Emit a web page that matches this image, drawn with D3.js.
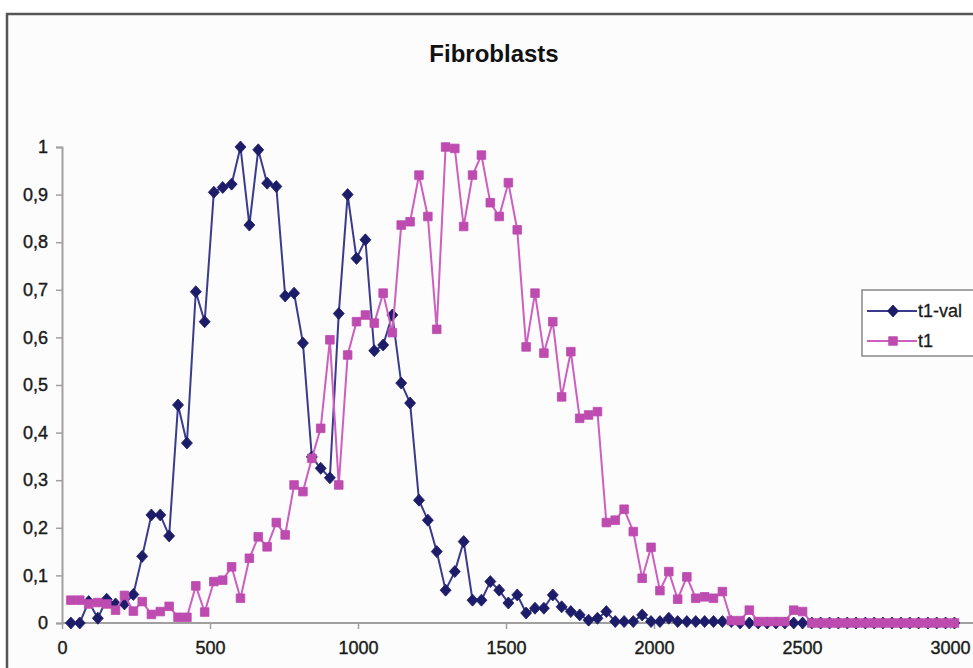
<!DOCTYPE html>
<html>
<head>
<meta charset="utf-8">
<script src="https://cdn.jsdelivr.net/npm/d3@7"></script>
<style>
  html, body { margin: 0; padding: 0; background: #ffffff; }
  svg { display: block; font-family: "Liberation Sans", Arial, sans-serif; }
</style>
</head>
<body>
<svg id="chart" width="973" height="668"></svg>
<script>
// ---------------- data ----------------
const chartTitle = "Fibroblasts";
const seriesNames = ["t1-val", "t1"];

const xValues = [30, 60, 90, 121, 151, 181, 211, 241, 271, 302,
  332, 362, 392, 422, 452, 482, 513, 543, 573, 603,
  633, 663, 693, 724, 754, 784, 814, 844, 874, 905,
  935, 965, 995, 1025, 1055, 1085, 1116, 1146, 1176, 1206,
  1236, 1266, 1296, 1327, 1357, 1387, 1417, 1447, 1477, 1508,
  1538, 1568, 1598, 1628, 1658, 1688, 1719, 1749, 1779, 1809,
  1839, 1869, 1899, 1930, 1960, 1990, 2020, 2050, 2080, 2111,
  2141, 2171, 2201, 2231, 2261, 2291, 2322, 2352, 2382, 2412,
  2442, 2472, 2502, 2533, 2563, 2593, 2623, 2653, 2683, 2714,
  2744, 2774, 2804, 2834, 2864, 2894, 2925, 2955, 2985, 3015];

const t1val = [0, 0, 0.045, 0.01, 0.05, 0.04, 0.04, 0.06, 0.14, 0.227,
  0.227, 0.183, 0.458, 0.378, 0.696, 0.633, 0.905, 0.915, 0.922, 1.0,
  0.836, 0.994, 0.924, 0.917, 0.687, 0.693, 0.588, 0.349, 0.325, 0.305,
  0.65, 0.9, 0.766, 0.805, 0.572, 0.584, 0.647, 0.504, 0.462, 0.258,
  0.216, 0.15, 0.069, 0.108, 0.171, 0.048, 0.048, 0.087, 0.069, 0.042,
  0.059, 0.021, 0.031, 0.031, 0.059, 0.034, 0.024, 0.017, 0.006, 0.01,
  0.024, 0.003, 0.003, 0.003, 0.017, 0.003, 0.003, 0.01, 0.003, 0.003,
  0.003, 0.003, 0.003, 0.003, 0.003, 0, 0, 0, 0, 0,
  0, 0, 0, 0, 0, 0, 0, 0, 0, 0,
  0, 0, 0, 0, 0, 0, 0, 0, 0, 0];

const t1 = [0.048, 0.048, 0.04, 0.043, 0.04, 0.027, 0.058, 0.025, 0.045, 0.018,
  0.024, 0.035, 0.012, 0.012, 0.078, 0.023, 0.087, 0.09, 0.118, 0.052,
  0.136, 0.181, 0.16, 0.211, 0.185, 0.29, 0.276, 0.346, 0.409, 0.595,
  0.29, 0.563, 0.633, 0.647, 0.63, 0.693, 0.61, 0.836, 0.843, 0.941,
  0.854, 0.617, 1.0, 0.997, 0.833, 0.941, 0.983, 0.883, 0.854, 0.925,
  0.826, 0.58, 0.693, 0.567, 0.633, 0.475, 0.57, 0.43, 0.437, 0.444,
  0.211, 0.216, 0.239, 0.192, 0.094, 0.159, 0.068, 0.108, 0.05, 0.097,
  0.052, 0.055, 0.052, 0.066, 0.005, 0.005, 0.027, 0.003, 0.003, 0.003,
  0.003, 0.027, 0.024, 0, 0, 0, 0, 0, 0, 0,
  0, 0, 0, 0, 0, 0, 0, 0, 0, 0];

const xTicks = [0, 500, 1000, 1500, 2000, 2500, 3000];
const yTicks = [0, 0.1, 0.2, 0.3, 0.4, 0.5, 0.6, 0.7, 0.8, 0.9, 1];
const yTickLabels = ["0", "0,1", "0,2", "0,3", "0,4", "0,5", "0,6", "0,7", "0,8", "0,9", "1"];

// ---------------- drawing ----------------
const svg = d3.select("#chart");

// chart frame
svg.append("rect")
  .attr("x", 7).attr("y", 14)
  .attr("width", 990).attr("height", 680)
  .attr("fill", "#fcfcfc")
  .attr("stroke", "#555555").attr("stroke-width", 2.5);

const x = d3.scaleLinear().domain([0, 3000]).range([62, 950]);
const y = d3.scaleLinear().domain([0, 1]).range([623, 147]);

// title
svg.append("text")
  .attr("x", 494).attr("y", 62)
  .attr("text-anchor", "middle")
  .attr("font-size", 24).attr("font-weight", "bold")
  .attr("fill", "#111")
  .text(chartTitle);

// axes
const yAxis = d3.axisLeft(y).tickValues(yTicks).tickSize(6).tickPadding(8)
  .tickFormat((d, i) => yTickLabels[i]);
const xAxis = d3.axisBottom(x).tickValues(xTicks).tickSize(6).tickPadding(12)
  .tickFormat(d3.format("d"));

const gx = svg.append("g").attr("transform", `translate(0,${y(0)})`).call(xAxis);
gx.select(".domain").attr("stroke", "#a0a0a0").attr("stroke-width", 2)
  .attr("d", `M${x(0)},0H973`);
gx.selectAll(".tick line").attr("stroke", "#a0a0a0").attr("stroke-width", 1.5);
gx.selectAll(".tick text").attr("font-size", 18).attr("fill", "#1a1a1a")
  .attr("stroke", "#1a1a1a").attr("stroke-width", 0.4)
  .attr("font-family", "Liberation Sans, Arial, sans-serif");

const gy = svg.append("g").attr("transform", `translate(${x(0)},0)`).call(yAxis);
gy.select(".domain").attr("stroke", "#a0a0a0").attr("stroke-width", 2);
gy.selectAll(".tick line").attr("stroke", "#a0a0a0").attr("stroke-width", 1.5);
gy.selectAll(".tick text").attr("font-size", 18).attr("fill", "#1a1a1a")
  .attr("stroke", "#1a1a1a").attr("stroke-width", 0.4)
  .attr("font-family", "Liberation Sans, Arial, sans-serif");

// series
const series = [
  { name: seriesNames[0], values: t1val, line: "#3b3b8e", fill: "#1c1c68", shape: "diamond" },
  { name: seriesNames[1], values: t1, line: "#cc5fc0", fill: "#bd4bb0", shape: "square" }
];

const diamondPath = "M0,-6L5.5,0L0,6L-5.5,0Z";
const squarePath = "M-4.3,-4.3H4.3V4.3H-4.3Z";

const lineGen = d3.line().x(d => x(d.x)).y(d => y(d.v));

series.forEach(s => {
  const pts = xValues.map((xv, i) => ({ x: xv, v: s.values[i] }));
  const g = svg.append("g");
  g.append("path").datum(pts)
    .attr("fill", "none").attr("stroke", s.line).attr("stroke-width", 2)
    .attr("d", lineGen);
  g.selectAll("path.m").data(pts).enter().append("path")
    .attr("class", "m")
    .attr("transform", d => `translate(${x(d.x)},${y(d.v)})`)
    .attr("d", s.shape === "diamond" ? diamondPath : squarePath)
    .attr("fill", s.fill).attr("stroke", s.fill).attr("stroke-width", 0.8);
});

// legend
const lg = svg.append("g");
lg.append("rect").attr("x", 862).attr("y", 290).attr("width", 112).attr("height", 66)
  .attr("fill", "#ffffff").attr("stroke", "#888888").attr("stroke-width", 1.5);
series.forEach((s, i) => {
  const cy = 311 + i * 30;
  lg.append("line").attr("x1", 867).attr("x2", 917).attr("y1", cy).attr("y2", cy)
    .attr("stroke", s.line).attr("stroke-width", 2);
  lg.append("path").attr("transform", `translate(893,${cy})`)
    .attr("d", s.shape === "diamond" ? diamondPath : squarePath)
    .attr("fill", s.fill).attr("stroke", s.fill).attr("stroke-width", 0.8);
  lg.append("text").attr("x", 918).attr("y", cy + 6)
    .attr("font-size", 18).attr("fill", "#1a1a1a")
    .attr("stroke", "#1a1a1a").attr("stroke-width", 0.3)
    .text(s.name);
});
</script>
</body>
</html>
